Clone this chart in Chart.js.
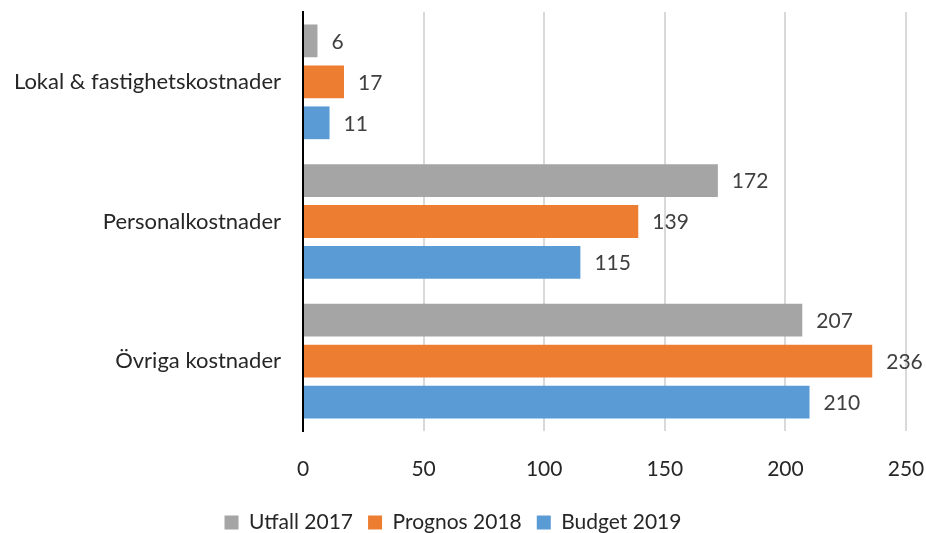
<!DOCTYPE html>
<html>
<head>
<meta charset="utf-8">
<script src="https://cdn.jsdelivr.net/npm/chart.js@4"></script>
<style>
  html, body { margin: 0; padding: 0; background: #fff; }
  #wrap { width: 926px; height: 533px; }
</style>
</head>
<body>
<div id="wrap"><canvas id="costChart" width="926" height="533"></canvas></div>
<script>
const categories = ['Lokal & fastighetskostnader', 'Personalkostnader', 'Övriga kostnader'];
const seriesNames = ['Utfall 2017', 'Prognos 2018', 'Budget 2019'];
const utfall2017 = [6, 172, 207];
const prognos2018 = [17, 139, 236];
const budget2019 = [11, 115, 210];
const xTicks = [0, 50, 100, 150, 200, 250];

const colors = ['#A5A5A5', '#ED7D31', '#5B9BD5'];
const fontFamily = 'Lato, "Open Sans", sans-serif';

// Value labels at the end of each bar
const barLabels = {
    id: 'barLabels',
    afterDatasetsDraw(chart) {
        const ctx = chart.ctx;
        ctx.save();
        ctx.font = '21px ' + fontFamily;
        ctx.fillStyle = '#404040';
        ctx.textBaseline = 'middle';
        ctx.textAlign = 'left';
        chart.data.datasets.forEach((ds, i) => {
            chart.getDatasetMeta(i).data.forEach((bar, j) => {
                ctx.fillText(ds.data[j], bar.x + 14, bar.y + 1);
            });
        });
        ctx.restore();
    }
};

// drop the extra padding scales ask for around their tick labels
function noScalePadding(scale) {
    scale.paddingTop = 0;
    scale.paddingBottom = 0;
    scale.paddingLeft = 0;
    scale.paddingRight = 0;
}

const datasets = [utfall2017, prognos2018, budget2019].map((values, i) => ({
    label: seriesNames[i],
    data: values,
    backgroundColor: colors[i],
    categoryPercentage: 0.88,
    barPercentage: 0.8
}));

new Chart(document.getElementById('costChart'), {
    type: 'bar',
    data: { labels: categories, datasets: datasets },
    plugins: [barLabels],
    options: {
        indexAxis: 'y',
        responsive: false,
        animation: false,
        layout: { padding: { top: 12, right: 20, left: 0, bottom: -10 } },
        scales: {
            x: {
                min: 0,
                max: 250,
                afterBuildTicks: (scale) => { scale.ticks = xTicks.map(v => ({ value: v })); },
                grid: { color: '#D9D9D9', lineWidth: 2, drawTicks: false },
                border: { display: false },
                ticks: { color: '#262626', padding: 26, font: { family: fontFamily, size: 21 } },
                afterFit: (scale) => { scale.height = 66; noScalePadding(scale); }
            },
            y: {
                grid: { display: false, drawTicks: false },
                border: { display: true, color: '#000000', width: 2 },
                ticks: { color: '#262626', padding: 22, font: { family: fontFamily, size: 22 } },
                afterFit: (scale) => { scale.width = 303; noScalePadding(scale); }
            }
        },
        plugins: {
            legend: {
                position: 'bottom',
                labels: {
                    boxWidth: 14,
                    boxHeight: 14,
                    padding: 15,
                    color: '#262626',
                    font: { family: fontFamily, size: 21 }
                }
            },
            tooltip: { enabled: false }
        }
    }
});
</script>
</body>
</html>
